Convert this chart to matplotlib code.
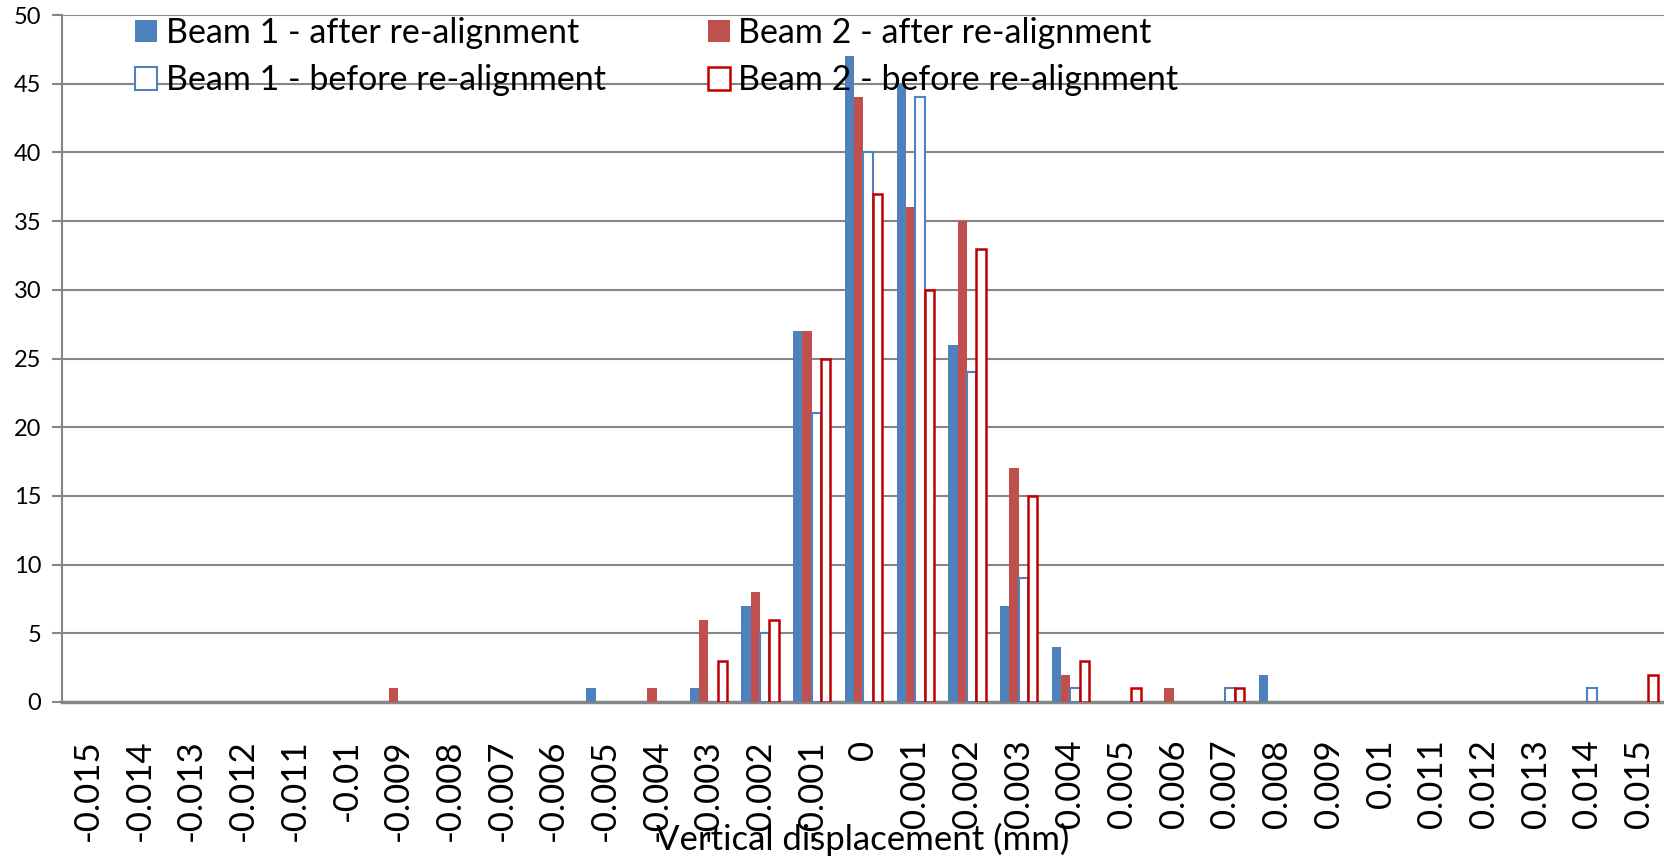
import numpy as np
import matplotlib
matplotlib.use("Agg")
from matplotlib import pyplot as plt
from matplotlib.patches import Patch

plt.rcParams['font.family'] = ['Lato', 'DejaVu Sans']

categories = ['-0.015', '-0.014', '-0.013', '-0.012', '-0.011', '-0.01', '-0.009',
              '-0.008', '-0.007', '-0.006', '-0.005', '-0.004', '-0.003', '-0.002',
              '-0.001', '0', '0.001', '0.002', '0.003', '0.004', '0.005', '0.006',
              '0.007', '0.008', '0.009', '0.01', '0.011', '0.012', '0.013', '0.014',
              '0.015']

beam1_after = [0, 0, 0, 0, 0, 0, 0, 0, 0, 0, 1, 0, 1, 7, 27, 47, 45, 26, 7, 4,
               0, 0, 0, 2, 0, 0, 0, 0, 0, 0, 0]
beam2_after = [0, 0, 0, 0, 0, 0, 1, 0, 0, 0, 0, 1, 6, 8, 27, 44, 36, 35, 17, 2,
               0, 1, 0, 0, 0, 0, 0, 0, 0, 0, 0]
beam1_before = [0, 0, 0, 0, 0, 0, 0, 0, 0, 0, 0, 0, 0, 5, 21, 40, 44, 24, 9, 1,
                0, 0, 1, 0, 0, 0, 0, 0, 0, 1, 0]
beam2_before = [0, 0, 0, 0, 0, 0, 0, 0, 0, 0, 0, 0, 3, 6, 25, 37, 30, 33, 15, 3,
                1, 0, 1, 0, 0, 0, 0, 0, 0, 0, 2]

blue = '#4F81BD'
red = '#C0504D'
dark_red = '#C00000'
grid_col = '#868686'

fig = plt.figure(figsize=(16.65, 8.57), dpi=100)
ax = fig.add_axes([62 / 1665, 1 - 702 / 857, 1 - 62 / 1665, (702 - 15) / 857])

x = np.arange(len(categories))
w = 0.18

h1 = ax.bar(x - 1.5 * w, beam1_after, w, color=blue, zorder=3)
h2 = ax.bar(x - 0.5 * w, beam2_after, w, color=red, zorder=3)
h3 = ax.bar(x + 0.5 * w, beam1_before, w, facecolor='white', edgecolor=blue, linewidth=1.5, zorder=3)
h4 = ax.bar(x + 1.5 * w, beam2_before, w, facecolor='white', edgecolor=dark_red, linewidth=1.8, zorder=3)

# hide empty bars so the outlined ones don't leave stubs on the axis
for cont in [h1, h2, h3, h4]:
    for p in cont.patches:
        if p.get_height() == 0:
            p.set_visible(False)

ax.set_xlim(-0.5, len(categories) - 0.5)
ax.set_ylim(0, 50)
ax.set_yticks(np.arange(0, 51, 5))
ax.yaxis.grid(True, color=grid_col, linewidth=1.5, zorder=0)
ax.set_axisbelow(True)

ax.set_xticks(x)
ax.set_xticklabels(categories, rotation=90, va='top', ha='center', fontsize=25)
ax.tick_params(axis='x', length=0, pad=27)
ax.tick_params(axis='y', labelsize=17, length=7, color=grid_col, width=1.5, pad=8)

for s in ['top', 'right']:
    ax.spines[s].set_visible(False)
ax.spines['left'].set_color(grid_col)
ax.spines['left'].set_linewidth(1.5)
ax.spines['bottom'].set_color(grid_col)
ax.spines['bottom'].set_linewidth(2.5)

fig.text(0.518, 1 - 839 / 857, 'Vertical displacement (mm)', ha='center', va='center', fontsize=25)

handles = [Patch(facecolor=blue, edgecolor='none'),
           Patch(facecolor='white', edgecolor=blue, linewidth=1.5),
           Patch(facecolor=red, edgecolor='none'),
           Patch(facecolor='white', edgecolor=dark_red, linewidth=1.8)]
ax.legend(handles,
          ['Beam 1 - after re-alignment', 'Beam 1 - before re-alignment',
           'Beam 2 - after re-alignment', 'Beam 2 - before re-alignment'],
          ncol=2, frameon=False, fontsize=24.5, handlelength=0.65, handleheight=0.65,
          handletextpad=0.25, columnspacing=3.0, labelspacing=0.45,
          loc='upper left', bbox_to_anchor=(0.037, 1.017), borderaxespad=0)

fig.savefig('out.png', dpi=100)
